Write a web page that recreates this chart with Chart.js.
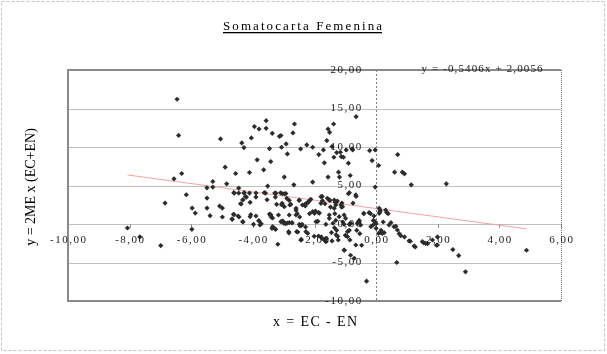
<!DOCTYPE html>
<html>
<head>
<meta charset="utf-8">
<script src="https://cdn.jsdelivr.net/npm/chart.js@4.4.1/dist/chart.umd.min.js"></script>
<style>
html,body{margin:0;padding:0;background:#fff;}
#wrap{width:607px;height:354px;position:relative;}
</style>
</head>
<body>
<div id="wrap"><canvas id="c" width="607" height="354"></canvas></div>
<script>
// ---- data ----
const titleText = 'Somatocarta Femenina';
const xAxisTitle = 'x = EC - EN';
const yAxisTitle = 'y = 2ME x (EC+EN)';
const equationText = 'y = -0,5406x + 2,0056';

const xTickValues = [-10, -8, -6, -4, -2, 0, 2, 4, 6];
const xTickLabels = ['-10,00', '-8,00', '-6,00', '-4,00', '-2,00', '0,00', '2,00', '4,00', '6,00'];
const yTickValues = [-10, -5, 0, 5, 10, 15, 20];
const yTickLabels = ['-10,00', '-5,00', '0,00', '5,00', '10,00', '15,00', '20,00'];

const trendX = [-8.07, 4.88];
const trendY = [6.37, -0.63];

const xValues = [
-8.07,-7.67,-6.99,-6.85,-6.46,-6.41,-6.56,-6.31,-6.16,-5.97,-5.87,-5.98,-5.49,-5.49,-5.49,-5.39,-5.30,-5.30,-5.05,-5.08,
-4.99,-4.99,-4.90,-4.85,-4.68,-4.60,-4.61,-4.56,-4.46,-4.46,-4.45,-4.40,-4.36,-4.32,-4.29,-4.29,-4.32,-4.21,-4.11,-4.05,
-4.11,-4.09,-4.07,-3.98,-3.95,-3.90,-3.90,-3.90,-3.86,-3.80,-3.80,-3.73,-3.65,-3.57,-3.57,-3.59,-3.54,-3.52,-3.46,-3.42,
-3.42,-3.37,-3.36,-3.38,-3.29,-3.26,-3.27,-3.23,-3.19,-3.14,-3.09,-3.07,-3.04,-3.07,-3.04,-2.98,-2.98,-2.92,-2.88,-2.88,
-2.83,-2.82,-2.77,-2.73,-2.70,-2.67,-2.65,-2.60,-2.56,-2.54,-2.50,-2.48,-2.45,-2.44,-2.42,-2.29,-2.29,-2.25,-2.20,-2.16,
-2.06,-2.06,-2.01,-1.97,-1.89,-1.86,-1.84,-1.78,-1.75,-1.71,-1.68,-1.66,-1.63,-1.62,-1.60,-1.56,-1.56,-1.51,-1.50,-1.48,
-1.45,-1.43,-1.43,-1.38,-1.37,-1.34,-1.33,-1.31,-1.28,-1.28,-1.26,-1.22,-1.19,-1.16,-1.13,-1.12,-1.11,-1.08,-1.06,-1.03,
-1.00,-0.97,-0.90,-0.90,-0.87,-0.84,-0.83,-0.78,-0.76,-0.65,-0.65,-0.63,-0.55,-0.53,-0.47,-0.40,-0.31,-0.21,-0.18,-0.13,
-0.09,-0.03,-0.03,0.00,0.08,0.13,0.16,0.23,0.39,0.48,0.60,0.64,0.67,0.70,0.75,0.85,0.92,0.92,1.11,1.14,
1.27,1.55,1.67,1.96,1.99,2.28,2.49,2.68,2.90,4.88,
1.83,1.07,0.80,0.58,0.26,0.20,0.34,0.10,0.10,1.61,1.99,
-4.62,-4.28,-4.24,-3.63,-4.33,-4.38,-4.63,-4.67,-4.48,-4.33,-4.09,-3.81,-3.77,-3.43,-3.40,-3.46,-3.17,-3.36,-3.30,-3.09,
-3.00,-2.93,-3.05,-2.98,-2.90,-3.25,-3.10,-2.93,-2.80,-2.82,-2.60,-2.60,-2.49,-2.39,-2.30,-2.22,-2.17,-2.12,-3.01,-2.95,
-2.82,-2.73,-2.84,-2.58,-2.49,-2.47,-2.40,-2.43,-2.28,-2.22,-2.06,-2.00,-1.87,-1.95,-1.87,-1.76,-1.68,-1.63,-1.79,-1.79,
-1.74,-1.58,-1.52,-1.36,-1.31,-1.52,-1.52,-1.36,-1.31,-1.40,-1.35,-1.30,-1.23,-1.25,-1.14,-1.09,-1.20,-1.04,-0.99,-1.04,
-0.87,-0.82,-0.93,-0.93,-0.85,-0.87,-0.66,-0.75,-0.61,-0.55,-0.50,-0.66,-1.04,-0.71,-0.40,-0.23,-0.17,-0.10,-0.03,0.00,
-0.07,0.13,0.08,0.15,0.31,0.42,0.69,1.23,1.50
];
const yValues = [
-0.52,-1.68,-2.80,2.72,16.20,11.50,5.87,6.56,3.80,2.07,1.42,-0.69,2.07,3.37,4.70,1.08,4.79,5.52,11.05,2.33,
2.07,0.91,7.38,5.22,0.65,4.01,1.21,6.56,4.66,4.01,0.91,2.63,10.53,3.15,9.93,4.01,0.26,3.50,6.69,11.18,
4.01,2.81,1.21,-0.04,12.65,1.04,4.01,3.50,8.33,12.34,0.39,0.04,7.03,12.43,13.42,4.01,3.15,4.92,9.80,1.21,
8.11,11.78,0.78,-0.56,4.01,-0.69,3.50,2.55,-2.63,11.39,11.48,9.97,3.93,2.50,0.39,6.09,3.93,10.40,9.10,0.13,
-1.17,3.06,2.55,0.13,11.83,5.09,12.99,1.77,1.34,-1.04,3.06,0.91,9.75,-2.11,-0.17,2.63,-0.39,10.27,2.85,1.34,
5.44,9.97,-1.60,1.68,0.35,9.02,1.42,-1.68,3.58,9.62,7.94,2.63,-0.04,-1.90,10.83,12.34,6.09,11.91,3.06,2.20,
-1.12,10.05,-2.20,12.99,8.67,1.34,2.85,0.47,9.28,-0.82,2.98,6.73,6.09,9.32,8.76,2.20,2.72,0.26,8.67,-3.41,
-1.47,9.62,7.90,3.93,-0.82,6.30,-4.06,9.75,9.62,13.94,3.58,-0.82,0.47,-1.25,-2.76,1.34,-7.42,9.54,1.34,8.24,
0.47,9.62,4.79,0.04,7.60,1.77,-0.82,0.26,1.34,0.17,6.73,-0.30,-5.00,9.02,-1.25,6.73,6.52,-1.68,-2.24,5.09,
-2.98,-2.46,-2.55,-2.76,-1.68,5.22,-3.32,-4.10,-6.21,-3.41,
-2.08,-2.20,-1.52,-0.35,-1.13,-1.21,1.52,2.04,1.39,-2.51,-2.73,
4.07,4.07,3.55,4.07,3.12,2.60,1.26,0.61,1.04,0.30,0.95,0.43,-0.13,1.10,0.90,1.30,1.17,-0.35,-0.56,0.30,
0.10,0.05,2.69,2.25,3.34,4.00,4.05,3.95,2.47,1.17,2.04,1.17,3.12,2.47,2.34,2.77,3.03,3.20,0.30,0.09,
0.17,0.17,-1.00,-1.00,-0.04,-0.26,-0.04,-1.99,-1.00,-1.21,1.60,1.39,1.47,0.30,-1.56,-1.86,-2.08,-2.30,3.55,2.69,
3.03,3.34,3.12,3.12,2.82,1.17,0.74,2.04,2.47,0.10,-0.50,-1.40,-2.08,-1.60,2.47,2.25,0.95,1.17,0.74,-0.04,
-0.04,0.09,-1.00,-1.65,-2.08,4.07,3.77,2.70,0.09,0.30,-0.13,-2.73,-3.38,-4.45,1.39,1.47,-0.35,-0.13,0.30,-0.56,
1.04,1.60,-1.21,-1.13,1.82,-0.13,-0.78,-2.86,-2.30
];

// ---- helpers ----
const SERIF = '"Liberation Serif", "Times New Roman", serif';
function textWidth(ctx, text, spacing) {
  let w = 0;
  for (const ch of text) w += ctx.measureText(ch).width;
  return w + spacing * (text.length - 1);
}
function drawSpaced(ctx, text, x, y, spacing, align) {
  const w = textWidth(ctx, text, spacing);
  let cx = align === 'center' ? x - w / 2 : (align === 'right' ? x - w : x);
  ctx.textAlign = 'left';
  for (const ch of text) {
    ctx.fillText(ch, cx, y);
    cx += ctx.measureText(ch).width + spacing;
  }
  return w;
}
function fitSpacing(ctx, text, target) {
  const nat = textWidth(ctx, text, 0);
  return Math.max(0, (target - nat) / (text.length - 1));
}
function line(ctx, x1, y1, x2, y2) {
  ctx.beginPath(); ctx.moveTo(x1, y1); ctx.lineTo(x2, y2); ctx.stroke();
}

const decor = {
  id: 'decor',
  beforeDraw(chart) {
    const ctx = chart.ctx;
    ctx.save();
    ctx.fillStyle = '#fff';
    ctx.fillRect(0, 0, chart.width, chart.height);
    ctx.strokeStyle = '#c4c4c4';
    ctx.lineWidth = 1;
    ctx.setLineDash([3, 2]);
    ctx.strokeRect(1.5, 1.5, 603, 349);
    ctx.restore();
  },
  beforeDatasetsDraw(chart) {
    const {ctx, chartArea: a, scales: {x, y}} = chart;
    ctx.save();
    ctx.lineWidth = 1;
    ctx.strokeStyle = '#c0c0c0';
    for (const v of yTickValues) {
      const py = Math.round(y.getPixelForValue(v)) + 0.5;
      line(ctx, a.left, py, a.right, py);
    }
    const px0 = Math.round(x.getPixelForValue(0)) + 0.5;
    ctx.strokeStyle = '#808080';
    ctx.setLineDash([2, 2]);
    line(ctx, px0, a.top, px0, a.bottom);
    ctx.setLineDash([]);
    const py0 = Math.round(y.getPixelForValue(0));
    ctx.strokeStyle = '#909090';
    for (const v of xTickValues) {
      const px = Math.round(x.getPixelForValue(v)) + 0.5;
      line(ctx, px, py0, px, py0 + 4);
    }
    ctx.strokeStyle = '#8a8a8a';
    ctx.lineWidth = 2;
    line(ctx, a.left - 1, a.top, a.right, a.top);
    line(ctx, a.left, a.top, a.left, a.bottom);
    line(ctx, a.left - 1, a.bottom, a.right, a.bottom);
    ctx.lineWidth = 1;
    ctx.setLineDash([1, 1]);
    ctx.strokeStyle = '#707070';
    line(ctx, Math.round(a.right) + 0.5, a.top, Math.round(a.right) + 0.5, a.bottom);
    ctx.restore();
  },
  afterDatasetsDraw(chart) {
    const {ctx, chartArea: a, scales: {x, y}} = chart;
    ctx.save();
    ctx.fillStyle = '#1a1a1a';
    ctx.textBaseline = 'middle';
    ctx.font = '11px ' + SERIF;
    const px0 = x.getPixelForValue(0);
    const py0 = y.getPixelForValue(0);
    yTickValues.forEach((v, i) => {
      drawSpaced(ctx, yTickLabels[i], px0 - 15, y.getPixelForValue(v), 1.5, 'right');
    });
    xTickValues.forEach((v, i) => {
      drawSpaced(ctx, xTickLabels[i], x.getPixelForValue(v), py0 + 16.5, 1.5, 'center');
    });
    ctx.font = '11px ' + SERIF;
    let sp = fitSpacing(ctx, equationText, 121);
    drawSpaced(ctx, equationText, 482, a.top - 0.5, sp, 'center');

    ctx.fillStyle = '#000';
    ctx.textBaseline = 'alphabetic';
    ctx.font = '13px ' + SERIF;
    sp = fitSpacing(ctx, titleText, 159);
    const tw = drawSpaced(ctx, titleText, 302.5, 30, sp, 'center');
    ctx.fillRect(302.5 - tw / 2, 32, tw, 1.3);

    ctx.font = '14px ' + SERIF;
    ctx.textBaseline = 'middle';
    sp = fitSpacing(ctx, xAxisTitle, 84);
    drawSpaced(ctx, xAxisTitle, 315, 322, sp, 'center');

    ctx.save();
    ctx.translate(31.5, 187);
    ctx.rotate(-Math.PI / 2);
    sp = fitSpacing(ctx, yAxisTitle, 114);
    drawSpaced(ctx, yAxisTitle, 0, 0, sp, 'center');
    ctx.restore();
    ctx.restore();
  }
};

const points = xValues.map((v, i) => ({x: v, y: yValues[i]}));
const trend = trendX.map((v, i) => ({x: v, y: trendY[i]}));

new Chart(document.getElementById('c'), {
  type: 'scatter',
  data: {
    datasets: [
      {
        type: 'line',
        data: trend,
        borderColor: '#f5a3a3',
        borderWidth: 1,
        pointRadius: 0,
        fill: false,
        order: 2
      },
      {
        data: points,
        pointStyle: 'rectRot',
        pointRadius: 2.6,
        backgroundColor: '#2c2c2c',
        borderColor: '#2c2c2c',
        borderWidth: 0,
        order: 1
      }
    ]
  },
  options: {
    responsive: false,
    animation: false,
    devicePixelRatio: 1,
    events: [],
    layout: {padding: {left: 68, right: 46, top: 70, bottom: 53}},
    plugins: {legend: {display: false}, title: {display: false}, tooltip: {enabled: false}},
    scales: {
      x: {type: 'linear', min: -10, max: 6, display: false},
      y: {type: 'linear', min: -10, max: 20, display: false}
    }
  },
  plugins: [decor]
});
</script>
</body>
</html>
